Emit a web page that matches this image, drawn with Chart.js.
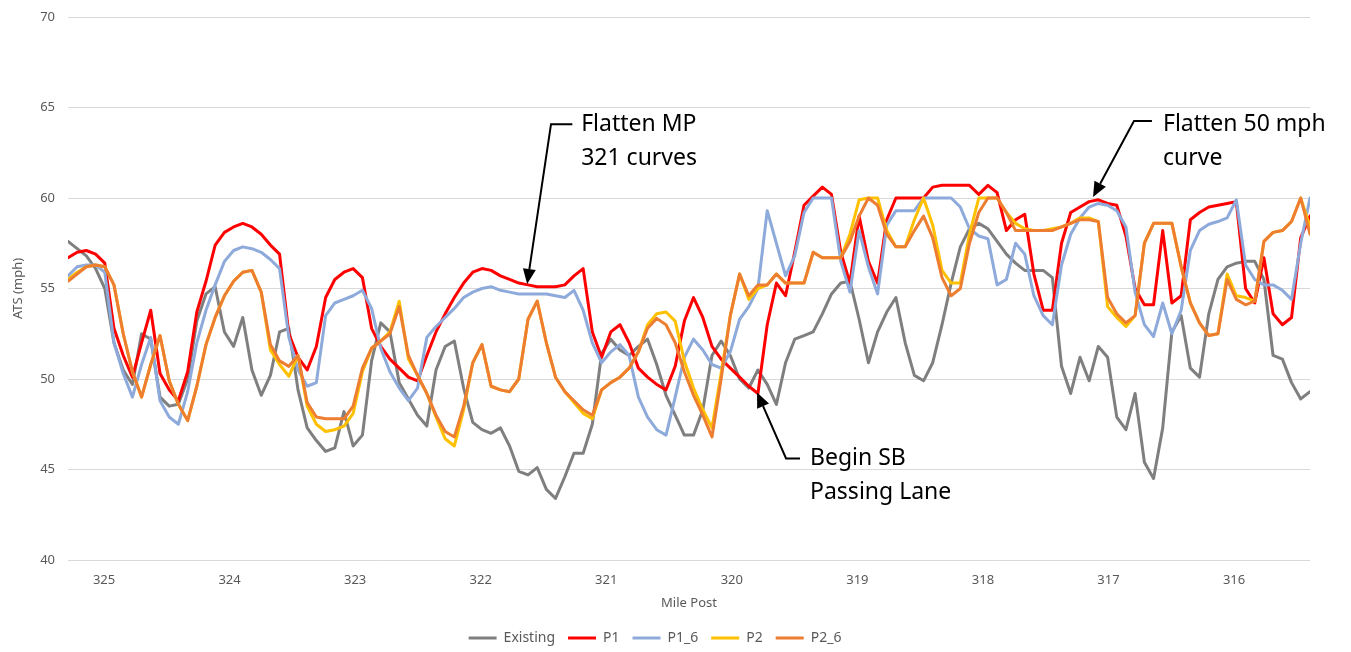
<!DOCTYPE html>
<html>
<head>
<meta charset="utf-8">
<script src="https://cdn.jsdelivr.net/npm/chart.js@4"></script>
<style>
  html, body { margin: 0; padding: 0; background: #fff; }
</style>
</head>
<body>
<canvas id="chart" width="1351" height="652"></canvas>
<script>
// mile post of each sample
const milePost = [
  325.287, 325.214, 325.141, 325.067, 324.994, 324.921, 324.847, 324.774, 324.701, 324.628,
  324.554, 324.481, 324.408, 324.334, 324.261, 324.188, 324.115, 324.041, 323.968, 323.895,
  323.822, 323.748, 323.675, 323.602, 323.528, 323.455, 323.382, 323.309, 323.235, 323.162,
  323.089, 323.016, 322.942, 322.869, 322.796, 322.723, 322.649, 322.576, 322.503, 322.429,
  322.356, 322.283, 322.210, 322.136, 322.063, 321.990, 321.917, 321.843, 321.770, 321.697,
  321.623, 321.550, 321.477, 321.404, 321.330, 321.257, 321.184, 321.111, 321.037, 320.964,
  320.891, 320.818, 320.744, 320.671, 320.598, 320.524, 320.451, 320.378, 320.305, 320.231,
  320.158, 320.085, 320.012, 319.938, 319.865, 319.792, 319.718, 319.645, 319.572, 319.499,
  319.425, 319.352, 319.279, 319.206, 319.132, 319.059, 318.986, 318.912, 318.839, 318.766,
  318.693, 318.619, 318.546, 318.473, 318.400, 318.326, 318.253, 318.180, 318.107, 318.033,
  317.960, 317.887, 317.813, 317.740, 317.667, 317.594, 317.520, 317.447, 317.374, 317.301,
  317.227, 317.154, 317.081, 317.007, 316.934, 316.861, 316.788, 316.714, 316.641, 316.568,
  316.495, 316.421, 316.348, 316.275, 316.201, 316.128, 316.055, 315.982, 315.908, 315.835,
  315.762, 315.689, 315.615, 315.542, 315.469, 315.395
];

const existing = [
  57.6, 57.2, 56.8, 56.1, 55.0, 52.0, 50.5, 49.7, 52.5, 52.2,
  49.0, 48.5, 48.6, 50.0, 53.2, 54.7, 55.1, 52.6, 51.8, 53.4,
  50.5, 49.1, 50.2, 52.6, 52.8, 49.4, 47.3, 46.6, 46.0, 46.2,
  48.2, 46.3, 46.9, 51.0, 53.1, 52.6, 49.8, 48.9, 48.0, 47.4,
  50.5, 51.8, 52.1, 49.5, 47.6, 47.2, 47.0, 47.3, 46.3, 44.9,
  44.7, 45.1, 43.9, 43.4, 44.6, 45.9, 45.9, 47.5, 51.4, 52.2,
  51.6, 51.3, 51.8, 52.2, 50.8, 49.1, 48.0, 46.9, 46.9, 48.3,
  51.3, 52.1, 51.3, 50.0, 49.5, 50.5, 49.7, 48.6, 50.9, 52.2,
  52.4, 52.6, 53.6, 54.7, 55.3, 55.4, 53.3, 50.9, 52.6, 53.7,
  54.5, 52.0, 50.2, 49.9, 50.9, 53.0, 55.3, 57.3, 58.3, 58.6,
  58.3, 57.6, 56.9, 56.4, 56.0, 56.0, 56.0, 55.6, 50.7, 49.2,
  51.2, 49.9, 51.8, 51.2, 47.9, 47.2, 49.2, 45.4, 44.5, 47.3,
  52.6, 53.5, 50.6, 50.1, 53.6, 55.5, 56.2, 56.4, 56.5, 56.5,
  55.5, 51.3, 51.1, 49.8, 48.9, 49.3
];

const p1 = [
  56.7, 57.0, 57.1, 56.9, 56.4, 52.8, 51.3, 50.1, 52.0, 53.8,
  50.3, 49.4, 48.8, 50.4, 53.7, 55.4, 57.4, 58.1, 58.4, 58.6,
  58.4, 58.0, 57.4, 56.9, 52.5, 51.2, 50.5, 51.8, 54.5, 55.5,
  55.9, 56.1, 55.6, 52.8, 51.8, 51.1, 50.6, 50.1, 49.9, 51.3,
  52.6, 53.6, 54.5, 55.3, 55.9, 56.1, 56.0, 55.7, 55.5, 55.3,
  55.2, 55.1, 55.1, 55.1, 55.2, 55.7, 56.1, 52.6, 51.2, 52.6,
  53.0, 52.0, 50.6, 50.1, 49.7, 49.4, 50.7, 53.2, 54.5, 53.4,
  51.8, 51.1, 50.6, 50.1, 49.6, 49.2, 53.0, 55.3, 54.6, 57.0,
  59.6, 60.1, 60.6, 60.2, 57.0, 55.3, 59.0, 56.5, 55.3, 58.8,
  60.0, 60.0, 60.0, 60.0, 60.6, 60.7, 60.7, 60.7, 60.7, 60.2,
  60.7, 60.3, 58.2, 58.8, 59.1, 55.8, 53.8, 53.8, 57.5, 59.2,
  59.5, 59.8, 59.9, 59.7, 59.6, 57.9, 55.0, 54.1, 54.1, 58.2,
  54.2, 54.6, 58.8, 59.2, 59.5, 59.6, 59.7, 59.8, 55.0, 54.2,
  56.7, 53.6, 53.0, 53.4, 57.8, 59.0
];

const p1_6 = [
  55.7, 56.2, 56.3, 56.3, 55.9, 52.0, 50.3, 49.0, 50.8, 52.3,
  48.8, 47.9, 47.5, 49.3, 52.0, 53.8, 55.2, 56.5, 57.1, 57.3,
  57.2, 57.0, 56.6, 56.1, 52.3, 50.5, 49.6, 49.8, 53.5, 54.2,
  54.4, 54.6, 54.9, 53.9, 51.7, 50.4, 49.5, 48.8, 49.5, 52.3,
  52.9, 53.4, 53.9, 54.5, 54.8, 55.0, 55.1, 54.9, 54.8, 54.7,
  54.7, 54.7, 54.7, 54.6, 54.5, 54.9, 53.8, 52.0, 50.9, 51.5,
  51.9, 51.3, 49.0, 47.9, 47.2, 46.9, 49.0, 51.2, 52.2, 51.6,
  50.8, 50.6, 51.5, 53.3, 54.0, 55.0, 59.3, 57.5, 55.7, 56.8,
  59.2, 60.0, 60.0, 60.0, 56.5, 54.8, 58.2, 56.2, 54.7, 58.5,
  59.3, 59.3, 59.3, 60.0, 60.0, 60.0, 60.0, 59.5, 58.3, 57.9,
  57.75, 55.2, 55.5, 57.5, 56.9, 54.6, 53.5, 53.0, 56.3, 58.0,
  58.9, 59.5, 59.7, 59.6, 59.3, 58.4, 54.8, 53.0, 52.35, 54.2,
  52.5, 53.8, 57.1, 58.2, 58.55, 58.7, 58.9, 59.9, 56.3, 55.5,
  55.2, 55.2, 54.9, 54.4, 57.5, 60.0
];

const p2 = [
  55.5, 55.9, 56.2, 56.3, 56.2, 55.2, 52.5, 50.4, 49.0, 50.8,
  52.4, 49.9, 48.6, 47.7, 49.6, 51.9, 53.4, 54.6, 55.4, 55.9,
  56.0, 54.8, 51.6, 50.8, 50.15, 51.3, 48.5, 47.5, 47.1, 47.2,
  47.4, 48.1, 50.4, 51.7, 52.1, 52.6, 54.3, 51.1, 50.2, 49.2,
  47.9, 46.7, 46.3, 48.3, 50.9, 51.9, 49.6, 49.4, 49.3, 50.0,
  53.3, 54.3, 52.0, 50.1, 49.3, 48.7, 48.1, 47.8, 49.4, 49.8,
  50.1, 50.6, 51.5, 53.0, 53.6, 53.7, 53.2, 51.0, 49.5, 48.3,
  47.3, 50.3, 53.5, 55.8, 54.4, 55.0, 55.2, 55.8, 55.3, 55.3,
  55.3, 57.0, 56.7, 56.7, 56.7, 58.0, 59.9, 60.0, 60.0, 58.2,
  57.3, 57.3, 58.8, 60.0, 58.5, 56.0, 55.3, 55.3, 58.0, 60.0,
  60.0, 60.0, 59.2, 58.6, 58.3, 58.2, 58.2, 58.3, 58.4, 58.6,
  58.9, 58.9, 58.7, 54.0, 53.4, 52.9, 53.5, 57.5, 58.6, 58.6,
  58.6, 56.2, 54.2, 53.1, 52.4, 52.5, 55.8, 54.6, 54.5, 54.3,
  57.6, 58.1, 58.2, 58.7, 60.0, 58.4
];

const p2_6 = [
  55.4, 55.8, 56.2, 56.3, 56.2, 55.2, 52.5, 50.4, 49.0, 50.8,
  52.4, 49.9, 48.6, 47.7, 49.6, 51.9, 53.4, 54.6, 55.4, 55.9,
  56.0, 54.8, 51.9, 51.0, 50.7, 51.3, 48.7, 47.9, 47.8, 47.8,
  47.8, 48.5, 50.6, 51.7, 52.1, 52.5, 54.0, 51.3, 50.2, 49.2,
  48.0, 47.1, 46.8, 48.5, 50.9, 51.9, 49.6, 49.4, 49.3, 50.0,
  53.3, 54.3, 52.0, 50.1, 49.3, 48.8, 48.3, 48.0, 49.4, 49.8,
  50.1, 50.6, 51.5, 52.8, 53.35, 53.0, 52.0, 50.4, 49.1, 48.0,
  46.8, 50.0, 53.5, 55.8, 54.6, 55.2, 55.2, 55.8, 55.3, 55.3,
  55.3, 57.0, 56.7, 56.7, 56.7, 57.6, 59.0, 60.0, 59.6, 58.0,
  57.3, 57.3, 58.2, 59.0, 57.8, 55.6, 54.6, 55.0, 57.5, 59.2,
  60.0, 60.0, 59.2, 58.2, 58.2, 58.2, 58.2, 58.2, 58.4, 58.6,
  58.8, 58.8, 58.7, 54.5, 53.6, 53.1, 53.5, 57.5, 58.6, 58.6,
  58.6, 56.2, 54.2, 53.1, 52.4, 52.5, 55.5, 54.4, 54.1, 54.3,
  57.6, 58.1, 58.2, 58.7, 60.0, 58.0
];

// callouts, placed in data units (mile post, mph)
const notes = [
  { lines: ['Flatten MP', '321 curves'], at: [321.20, 64.08], from: [321.27, 64.08], elbow: [321.44, 64.08], tip: [321.63, 55.25] },
  { lines: ['Flatten 50 mph', 'curve'], at: [316.566, 64.08], from: [316.654, 64.25], elbow: [316.797, 64.25], tip: [317.123, 60.06] },
  { lines: ['Begin SB', 'Passing Lane'], at: [319.377, 45.61], from: [319.457, 45.61], elbow: [319.568, 45.61], tip: [319.799, 49.26] }
];

Chart.defaults.font.family = '"Noto Sans", sans-serif';
Chart.defaults.color = '#595959';

function series(label, values, color, order) {
  return {
    label: label,
    data: values.map((v, i) => ({ x: milePost[i], y: v })),
    borderColor: color,
    backgroundColor: color,
    borderWidth: 3,
    pointRadius: 0,
    tension: 0,
    borderJoinStyle: 'round',
    borderCapStyle: 'round',
    order: order
  };
}

const callouts = {
  id: 'callouts',
  afterDatasetsDraw(chart) {
    const { ctx, scales: { x, y } } = chart;
    const px = p => [x.getPixelForValue(p[0]), y.getPixelForValue(p[1])];
    ctx.save();
    ctx.strokeStyle = '#000';
    ctx.fillStyle = '#000';
    ctx.lineWidth = 2;
    notes.forEach(n => {
      const [fx, fy] = px(n.from), [ex, ey] = px(n.elbow), [tx, ty] = px(n.tip);
      const a = Math.atan2(ty - ey, tx - ex);
      const len = 15, half = 6.5;
      const bx = tx - len * Math.cos(a), by = ty - len * Math.sin(a);
      ctx.beginPath();
      ctx.moveTo(fx, fy);
      ctx.lineTo(ex, ey);
      ctx.lineTo(bx, by);
      ctx.stroke();
      ctx.beginPath();
      ctx.moveTo(tx, ty);
      ctx.lineTo(bx + half * Math.sin(a), by - half * Math.cos(a));
      ctx.lineTo(bx - half * Math.sin(a), by + half * Math.cos(a));
      ctx.closePath();
      ctx.fill();
      const [ax, ay] = px(n.at);
      ctx.font = '23px "Noto Sans"';
      ctx.textAlign = 'left';
      ctx.textBaseline = 'middle';
      n.lines.forEach((t, k) => ctx.fillText(t, ax, ay + k * 34));
    });
    ctx.restore();
  }
};

const data = {
  datasets: [
    series('Existing', existing, '#7f7f7f', 5),
    series('P1', p1, '#ff0000', 4),
    series('P1_6', p1_6, '#8eaadb', 3),
    series('P2', p2, '#ffc000', 2),
    series('P2_6', p2_6, '#ed7d31', 1)
  ]
};

const config = {
  type: 'line',
  data: data,
  options: {
    responsive: false,
    animation: false,
    layout: { padding: { left: 0, right: 41, top: 17, bottom: -3 } },
    scales: {
      x: {
        type: 'linear',
        reverse: true,
        min: 315.395,
        max: 325.287,
        ticks: { stepSize: 1, includeBounds: false, padding: 12, font: { size: 13 } },
        grid: { display: false, drawTicks: false },
        border: { display: false },
        title: { display: true, text: 'Mile Post', font: { size: 13 }, padding: { top: 4, bottom: 7 } },
        afterFit: s => { s.height = 58; }
      },
      y: {
        min: 40,
        max: 70,
        ticks: { stepSize: 5, padding: 13, font: { size: 13 } },
        grid: { color: '#d9d9d9', drawTicks: false, lineWidth: 1 },
        border: { display: false },
        title: { display: true, text: 'ATS (mph)', font: { size: 13 }, padding: { top: 10, bottom: 0 } },
        afterFit: s => { s.width = 68; s.paddingTop = 0; s.paddingBottom = 0; }
      }
    },
    plugins: {
      legend: {
        position: 'bottom',
        labels: {
          boxWidth: 28,
          boxHeight: 3,
          padding: 13,
          font: { size: 14 },
          color: '#595959',
          sort: (a, b) => a.datasetIndex - b.datasetIndex,
          generateLabels: chart => Chart.defaults.plugins.legend.labels.generateLabels(chart)
            .map(item => Object.assign(item, { lineWidth: 0 }))
        }
      },
      tooltip: { enabled: false }
    }
  },
  plugins: [callouts]
};

const ctx = document.getElementById('chart').getContext('2d');
const chart = new Chart(ctx, config);
</script>
</body>
</html>
